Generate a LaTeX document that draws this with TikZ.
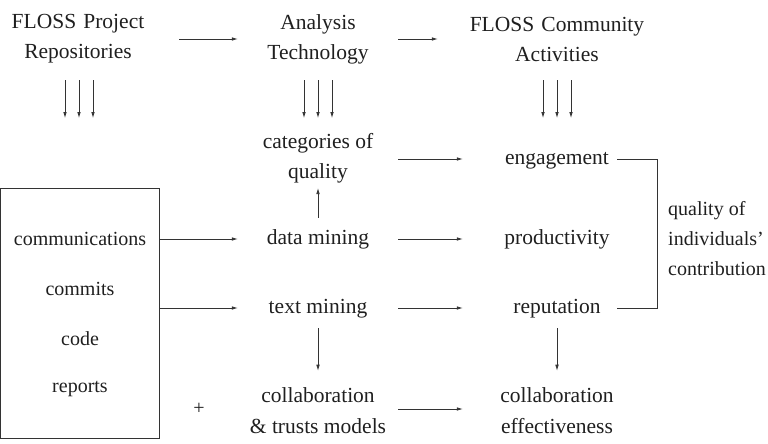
\documentclass[tikz,border=0pt]{standalone}
\usepackage{fontspec}
\setmainfont{Liberation Serif}
\usetikzlibrary{arrows.meta}
\definecolor{ink}{HTML}{1F1F1F}
\definecolor{wire}{HTML}{333333}
\begin{document}
\begin{tikzpicture}[x=1pt,y=-1pt,
  font=\fontsize{21.5}{30}\selectfont, text=ink,
  lbl/.style={inner sep=2pt, align=center},
  one/.style={lbl, text height=15pt, text depth=5pt},
  small/.style={font=\fontsize{20}{30}\selectfont},
  mid/.style={minimum width=160pt},
  rgt/.style={minimum width=120pt},
  arr/.style={draw=wire, line width=0.75pt, -{Latex[length=6pt,width=3.6pt]}},
  wireline/.style={draw=wire, line width=0.75pt}]
\useasboundingbox (0,0) rectangle (768,444);
% top row
\node[lbl, text width=150pt] (repo) at (78,39) {FLOSS Project\\Repositories};
\node[lbl, mid] (ana) at (318,39) {Analysis\\Technology};
\node[lbl, text width=190pt] (comm) at (557,39) {FLOSS Community\\Activities};
\draw[arr, shorten <=24pt] (repo.east) -- (ana.west);
\draw[arr, shorten >=22pt] (ana.east) -- (comm.west);
% triple arrows
\coordinate (s1) at (79,80);  \coordinate (e1) at (79,118);
\coordinate (s2) at (318,80); \coordinate (e2) at (318,118);
\coordinate (s3) at (557,80); \coordinate (e3) at (557,118);
\foreach \i in {1,2,3}{
  \foreach \dx in {-14,0,14}{
    \draw[arr] ([xshift=\dx pt]s\i) -- ([xshift=\dx pt]e\i);
  }
}
% box of repositories
\node[draw=wire, line width=0.75pt, minimum width=159pt, minimum height=250pt, inner sep=0pt] (box) at (80,313) {};
\node[one, small] (c1) at (80,240) {communications};
\node[one, small] (c2) at (80,290) {commits};
\node[one, small] (c3) at (80,340) {code};
\node[one, small] (c4) at (80,387) {reports};
\node[lbl, small] (plus) at (199,409) {+};
% middle column
\node[lbl, mid] (cat) at (318,158) {categories of\\quality};
\node[one, mid] (dm) at (318,239) {data mining};
\node[one, mid] (tm) at (318,308) {text mining};
\node[lbl, mid, font=\fontsize{21.5}{31}\selectfont] (ctm) at (318,411) {collaboration\\\& trusts models};
% right column
\node[one, rgt] (eng) at (557,159) {engagement};
\node[one, rgt] (prod) at (557,239) {productivity};
\node[one, rgt] (rep) at (557,308) {reputation};
\node[lbl, rgt, font=\fontsize{21.5}{31}\selectfont] (ce) at (557,411) {collaboration\\effectiveness};
\node[lbl, small, align=left, anchor=west] (qual) at (666,239) {quality of\\individuals’\\contribution};
% connectors
\draw[arr] (box.east |- dm.west) -- (dm.west);
\draw[arr] (box.east |- tm.west) -- (tm.west);
\draw[arr, shorten <=9pt, shorten >=3pt] (dm.north) -- (cat.south);
\draw[arr, shorten <=8pt, shorten >=15pt] (tm.south) -- (ctm.north);
\draw[arr, shorten >=34pt] (cat.east |- eng.west) -- (eng.west);
\draw[arr, shorten >=34pt] (dm.east) -- (prod.west);
\draw[arr, shorten >=34pt] (tm.east) -- (rep.west);
\draw[arr, shorten >=34pt] (ctm.east |- plus) -- (ce.west |- plus);
\draw[arr, shorten <=8pt, shorten >=15pt] (rep.south) -- (ce.north);
\coordinate (bx) at (657,0);
\draw[wireline] (eng.east) -- (eng.east -| bx) -- (rep.east -| bx) -- (rep.east);
\end{tikzpicture}
\end{document}
